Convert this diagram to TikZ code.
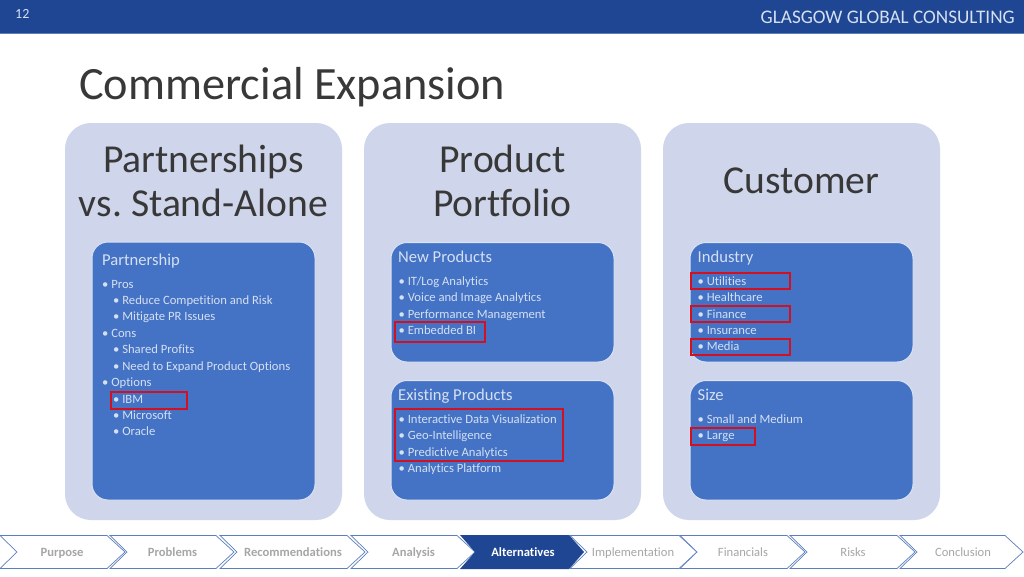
\documentclass[tikz,border=0pt]{standalone}
\usepackage{fontspec}
\setmainfont[Ligatures=NoCommon]{Carlito}
\usepackage{tikz}
\definecolor{barblue}{HTML}{1F4693}
\definecolor{panelblue}{HTML}{CFD5EA}
\definecolor{boxblue}{HTML}{4472C4}
\definecolor{itemtext}{HTML}{D5E0F3}
\definecolor{navgrey}{HTML}{A6A6A6}
\definecolor{navline}{HTML}{5B7FBE}
\definecolor{markred}{HTML}{D3101F}
\frenchspacing
\begin{document}
\begin{tikzpicture}[x=1pt,y=-1pt,
        panel/.style={fill=panelblue,rounded corners=26pt},
        listbox/.style={fill=boxblue,draw=white!80!boxblue,line width=1pt,rounded corners=16pt},
        paneltitle/.style={font=\fontsize{39.6}{44.5}\selectfont,text=black!78,align=center,inner sep=0pt},
        boxtitle/.style={anchor=west,font=\fontsize{16.6}{18}\selectfont,text=itemtext,inner sep=0pt,text height=14pt,text depth=3pt},
        item/.style={anchor=west,font=\fontsize{12.65}{14}\selectfont,text=itemtext,inner sep=0pt,text height=11pt,text depth=2.1pt},
        redmark/.style={draw=markred,line width=2pt},
        navstep/.style={draw=navline,line width=.7pt,fill=white},
        navlabel/.style={font=\fontsize{12.6}{14}\selectfont,text=navgrey,inner sep=0pt,text height=12pt,text depth=2.5pt}]
        \useasboundingbox (0,0) rectangle (1024,576);
        \fill[white] (0,0) rectangle (1024,576);
        % header
        \fill[barblue] (0,0) rectangle (1024,33);
        \draw[navline] (0,33.5) -- (1024,33.5);
        \node[anchor=west,inner sep=0pt,text=itemtext,font=\fontsize{14}{16}\selectfont] (pagenum) at (15,14) {12};
        \node[anchor=east,inner sep=0pt,text=itemtext,font=\fontsize{19.2}{20}\selectfont] (company) at (1015,17) {GLASGOW GLOBAL CONSULTING};
        \node[anchor=west,inner sep=0pt,text=black!78,font=\fontsize{46.3}{50}\selectfont] (title) at (79,87.5) {Commercial Expansion};
        % panels
        \foreach \x in {65,364,663}
          \fill[panel] (\x,123) rectangle ++(277,397);
        \node[paneltitle] (partner) at (203.5,181) {Partnerships\\vs. Stand-Alone};
        \node[paneltitle] (product) at (502.5,181) {Product\\Portfolio};
        \node[paneltitle] (customer) at (801.5,181) {Customer};
        % boxes
        \draw[listbox] (92,242) rectangle (315,500);
        \draw[listbox] (391,242.5) rectangle (614,362);
        \draw[listbox] (391,380.5) rectangle (614,500);
        \draw[listbox] (690,242.5) rectangle (913,362);
        \draw[listbox] (690,380.5) rectangle (913,500);
        \node[boxtitle] (partnership) at (102,260) {Partnership};
        \node[boxtitle] (newprod) at (398,257) {New Products};
        \node[boxtitle] (existprod) at (398,395) {Existing Products};
        \node[boxtitle] (industry) at (697.5,257) {Industry};
        \node[boxtitle] (size) at (697.5,395) {Size};
        % lists
        \foreach \y/\x/\t [count=\i] in {284/102/Pros,300/113/Reduce Competition and Risk,316.5/113/Mitigate PR Issues,
            333/102/Cons,349.5/113/Shared Profits,366/113/Need to Expand Product Options,
            382.5/102/Options,399/113/IBM,415/113/Microsoft,431.5/113/Oracle}
          \node[item] (a\i) at (\x,\y) {•\hspace{2.8pt}\t};
        \foreach \y/\t [count=\i] in {281/{IT/Log Analytics},297.5/Voice and Image Analytics,314/Performance Management,330/Embedded BI}
          \node[item] (b\i) at (398.5,\y) {•\hspace{2.8pt}\t};
        \foreach \y/\t [count=\i] in {419/Interactive Data Visualization,435.5/Geo-Intelligence,452/Predictive Analytics,468/Analytics Platform}
          \node[item] (c\i) at (398.5,\y) {•\hspace{2.8pt}\t};
        \foreach \y/\t [count=\i] in {281/Utilities,297.5/Healthcare,314/Finance,330/Insurance,346.5/Media}
          \node[item] (d\i) at (697.5,\y) {•\hspace{2.8pt}\t};
        \foreach \y/\t [count=\i] in {419/Small and Medium,435.5/Large}
          \node[item] (e\i) at (697.5,\y) {•\hspace{2.8pt}\t};
        % red marks
        \draw[redmark] (111,391.5) rectangle (187,408.5);
        \draw[redmark] (394.5,322) rectangle (484.5,341.5);
        \draw[redmark] (394.5,408.5) rectangle (562.5,460.5);
        \draw[redmark] (691,272.5) rectangle (790,288.5);
        \draw[redmark] (691,305.5) rectangle (790,321.5);
        \draw[redmark] (691,338.5) rectangle (790,354.5);
        \draw[redmark] (691,428) rectangle (755,445);
        % navigation
        \foreach \l/\r/\t/\c [count=\i] in {0/107/Purpose/62,110/216/Problems/172.5,220/347/Recommendations/293,351/457/Analysis/413.5,
            570/679/Implementation/633,680/787/Financials/743,790/897/Risks/853,900/1005/Conclusion/963}
        {
          \draw[navstep] (\l,535.5) -- (\r,535.5) -- (\r+18,552) -- (\r,568.5) -- (\l,568.5) -- (\l+17,552) -- cycle;
          \node[navlabel] (nav\i) at (\c,552) {\ifnum\i<5\textbf{\t}\else\t\fi};
        }
        \fill[barblue] (460,535) -- (569,535) -- (584,552) -- (569,569) -- (460,569) -- (475,552) -- cycle;
        \node[navlabel,text=white] (navcur) at (523,552) {\textbf{Alternatives}};
      \end{tikzpicture}
\end{document}
